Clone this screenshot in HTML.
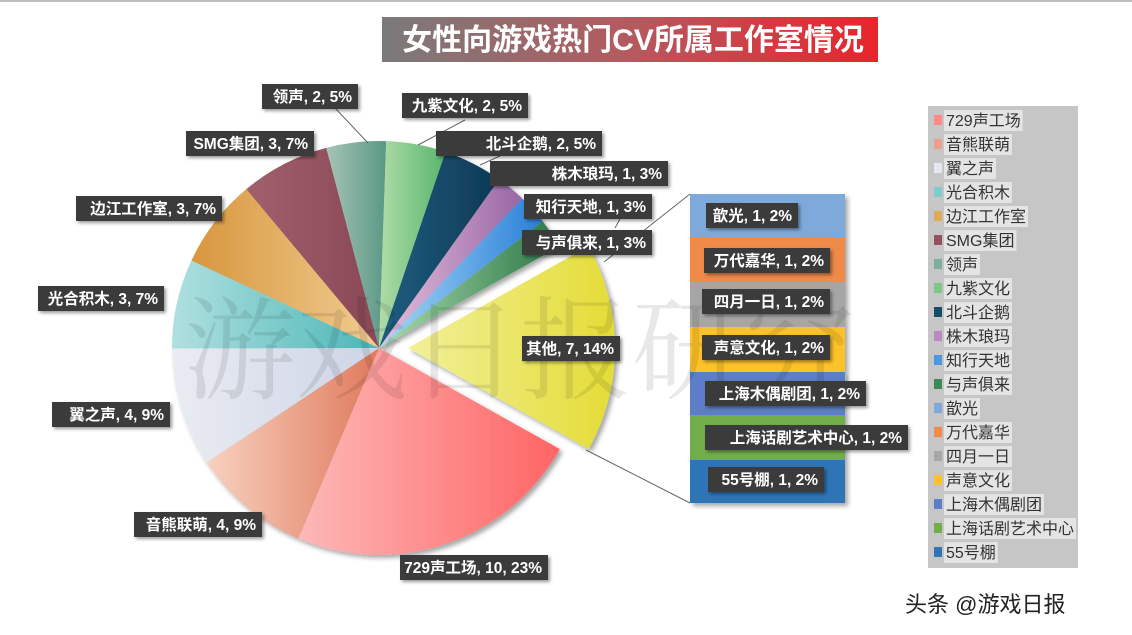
<!DOCTYPE html>
<html><head><meta charset="utf-8">
<style>
html,body{margin:0;padding:0;background:#fff;}
svg{display:block;}
.lb{font-family:"Liberation Sans","Noto Sans CJK SC",sans-serif;font-weight:bold;font-size:15.5px;fill:#fff;}
.lg{font-family:"Liberation Sans","Noto Sans CJK SC",sans-serif;font-size:16px;fill:#333;}
</style></head>
<body>
<svg id="s" width="1132" height="635" viewBox="0 0 1132 635" xmlns="http://www.w3.org/2000/svg">
<defs>
<linearGradient id="tg" x1="0" x2="1"><stop offset="0" stop-color="#7a7a7a"/><stop offset="0.5" stop-color="#b45a5f"/><stop offset="1" stop-color="#e8242c"/></linearGradient>
<filter id="sh" x="-10%" y="-10%" width="130%" height="130%"><feDropShadow dx="3" dy="3" stdDeviation="2.5" flood-color="#000" flood-opacity="0.35"/></filter>
<filter id="sh2" x="-10%" y="-20%" width="130%" height="150%"><feDropShadow dx="2" dy="2" stdDeviation="1.5" flood-color="#000" flood-opacity="0.4"/></filter>
</defs>
<rect x="0" y="0" width="1132" height="2" fill="#bdbdbd"/>
<rect x="382" y="17" width="496" height="45" fill="url(#tg)"/>
<text x="633" y="50" text-anchor="middle" font-family="Liberation Sans,Noto Sans CJK SC,sans-serif" font-weight="bold" font-size="30" fill="#fff">女性向游戏热门CV所属工作室情况</text>
<g id="pie" filter="url(#sh)"></g>
<g id="bar" filter="url(#sh)"></g>
<g stroke="#666" stroke-width="1" fill="none">
<line x1="604" y1="262" x2="690" y2="194"/>
<line x1="586" y1="450" x2="690" y2="503"/>
<line x1="335" y1="108" x2="368" y2="143"/>
<line x1="465" y1="120" x2="418" y2="145"/>
<line x1="500" y1="156" x2="480" y2="165"/>
<line x1="620" y1="219" x2="615" y2="228"/>
</g>
<text x="520" y="390" text-anchor="middle" font-family="Noto Serif CJK SC,serif" font-size="112" fill="#000" fill-opacity="0.09">游戏日报研究</text>
<g id="labels"></g>
<rect x="928" y="106" width="150" height="462" fill="#c6c6c6"/>
<g id="legend"></g>
<text x="905" y="612" font-family="Liberation Sans,Noto Sans CJK SC,sans-serif" font-size="22" fill="#222">头条 @游戏日报</text>
</svg>
<script>
var NS="http://www.w3.org/2000/svg",svg=document.getElementById('s'),defs=svg.querySelector('defs');
function el(t,a,p){var e=document.createElementNS(NS,t);for(var k in a)e.setAttribute(k,a[k]);(p||svg).appendChild(e);return e;}
var cx=379,cy=348,r=207;
var sl=[[10,'#fdb8b8','#ff6464'],[4,'#f7d2c0','#e0795c'],[4,'#eaecf2','#cdd4e6'],[3,'#b0e0e0','#4cb6b6'],[3,'#d8963e','#f0cc90'],[3,'#a0606c','#8a4856'],[2,'#a6c4b4','#5a9886'],[2,'#b0dca8','#58b66c'],[2,'#1f5e80','#0e3853'],[1,'#e6c0dc','#9866a6'],[1,'#a8d8f6','#2a7fd8'],[1,'#a8dcae','#2c7646'],[7,'#f2f09a','#e4dc36']];
var tot=43,a=119.2,pie=document.getElementById('pie');
sl.forEach(function(s,i){
 var sp=s[0]/tot*360,a0=a,a1=a+sp;a=a1;
 var ox=0,oy=0;if(i==12){var m=(a0+a1)/2*Math.PI/180;ox=29*Math.sin(m);oy=-29*Math.cos(m);}
 var g=el('linearGradient',{id:'g'+i,x1:'0',x2:'1',y1:'0',y2:'0'},defs);
 el('stop',{offset:'0','stop-color':s[1]},g);el('stop',{offset:'1','stop-color':s[2]},g);
 function pt(d){d=d*Math.PI/180;return (cx+ox+r*Math.sin(d)).toFixed(2)+','+(cy+oy-r*Math.cos(d)).toFixed(2);}
 el('path',{d:'M'+(cx+ox)+','+(cy+oy)+' L'+pt(a0)+' A'+r+','+r+' 0 '+(sp>180?1:0)+' 1 '+pt(a1)+' Z',fill:'url(#g'+i+')'},pie);
});
var bar=document.getElementById('bar'),bc=['#7eaadb','#ef8a48','#a6a6a6','#fcc22c','#5b7ec8','#6fae48','#2e74b6'],by=[194,238,282,327,372,415,460,503];
for(var i=0;i<7;i++)el('rect',{x:690,y:by[i],width:155,height:by[i+1]-by[i],fill:bc[i]},bar);
var L=[['领声, 2, 5%',262,84,96],['九紫文化, 2, 5%',402,93,126],['北斗企鹅, 2, 5%',436,131,166],['SMG集团, 3, 7%',186,131,128],['株木琅玛, 1, 3%',490,161,178],['知行天地, 1, 3%',524,194,128],['与声俱来, 1, 3%',522,230,130],['边江工作室, 3, 7%',76,196,146],['光合积木, 3, 7%',38,286,126],['其他, 7, 14%',522,336,98],['翼之声, 4, 9%',52,402,118],['音熊联萌, 4, 9%',134,512,128],['729声工场, 10, 23%',400,555,148],
['歆光, 1, 2%',706,203,92],['万代嘉华, 1, 2%',704,248,126],['四月一日, 1, 2%',702,289,128],['声意文化, 1, 2%',702,335,128],['上海木偶剧团, 1, 2%',705,381,161],['上海话剧艺术中心, 1, 2%',705,425,203],['55号棚, 1, 2%',708,467,116]];
var lb=document.getElementById('labels');
L.forEach(function(l){
 var g=el('g',{},lb);
 el('rect',{x:l[1],y:l[2],width:l[3],height:25,fill:'#3a3a3a',filter:'url(#sh2)'},g);
 var t=el('text',{x:l[1]+l[3]-6,y:l[2]+18,'text-anchor':'end','class':'lb'},g);t.textContent=l[0];
});
var lg=[['729声工场','#f88'],['音熊联萌','#eaa088'],['翼之声','#e4e8f2'],['光合积木','#80cccc'],['边江工作室','#e0aa58'],['SMG集团','#955060'],['领声','#7fae9c'],['九紫文化','#7cc886'],['北斗企鹅','#184a6a'],['株木琅玛','#b88cc0'],['知行天地','#4a98e0'],['与声俱来','#3c8a58'],['歆光','#7eaadb'],['万代嘉华','#ef8a48'],['四月一日','#a6a6a6'],['声意文化','#fcc22c'],['上海木偶剧团','#5b7ec8'],['上海话剧艺术中心','#6fae48'],['55号棚','#2e74b6']];
var lgg=document.getElementById('legend');
lg.forEach(function(l,i){
 var y=120+i*24;
 var t=el('text',{x:946,y:y+6,'class':'lg'},lgg);t.textContent=l[0];
 var w=t.getComputedTextLength?t.getComputedTextLength():60;
 var bg=el('rect',{x:944,y:y-10,width:w+4,height:21,fill:'#e4e4e4'});lgg.insertBefore(bg,t);
 el('rect',{x:934,y:y-5,width:8,height:10,fill:l[1]},lgg);
});
</script>
</body></html>
